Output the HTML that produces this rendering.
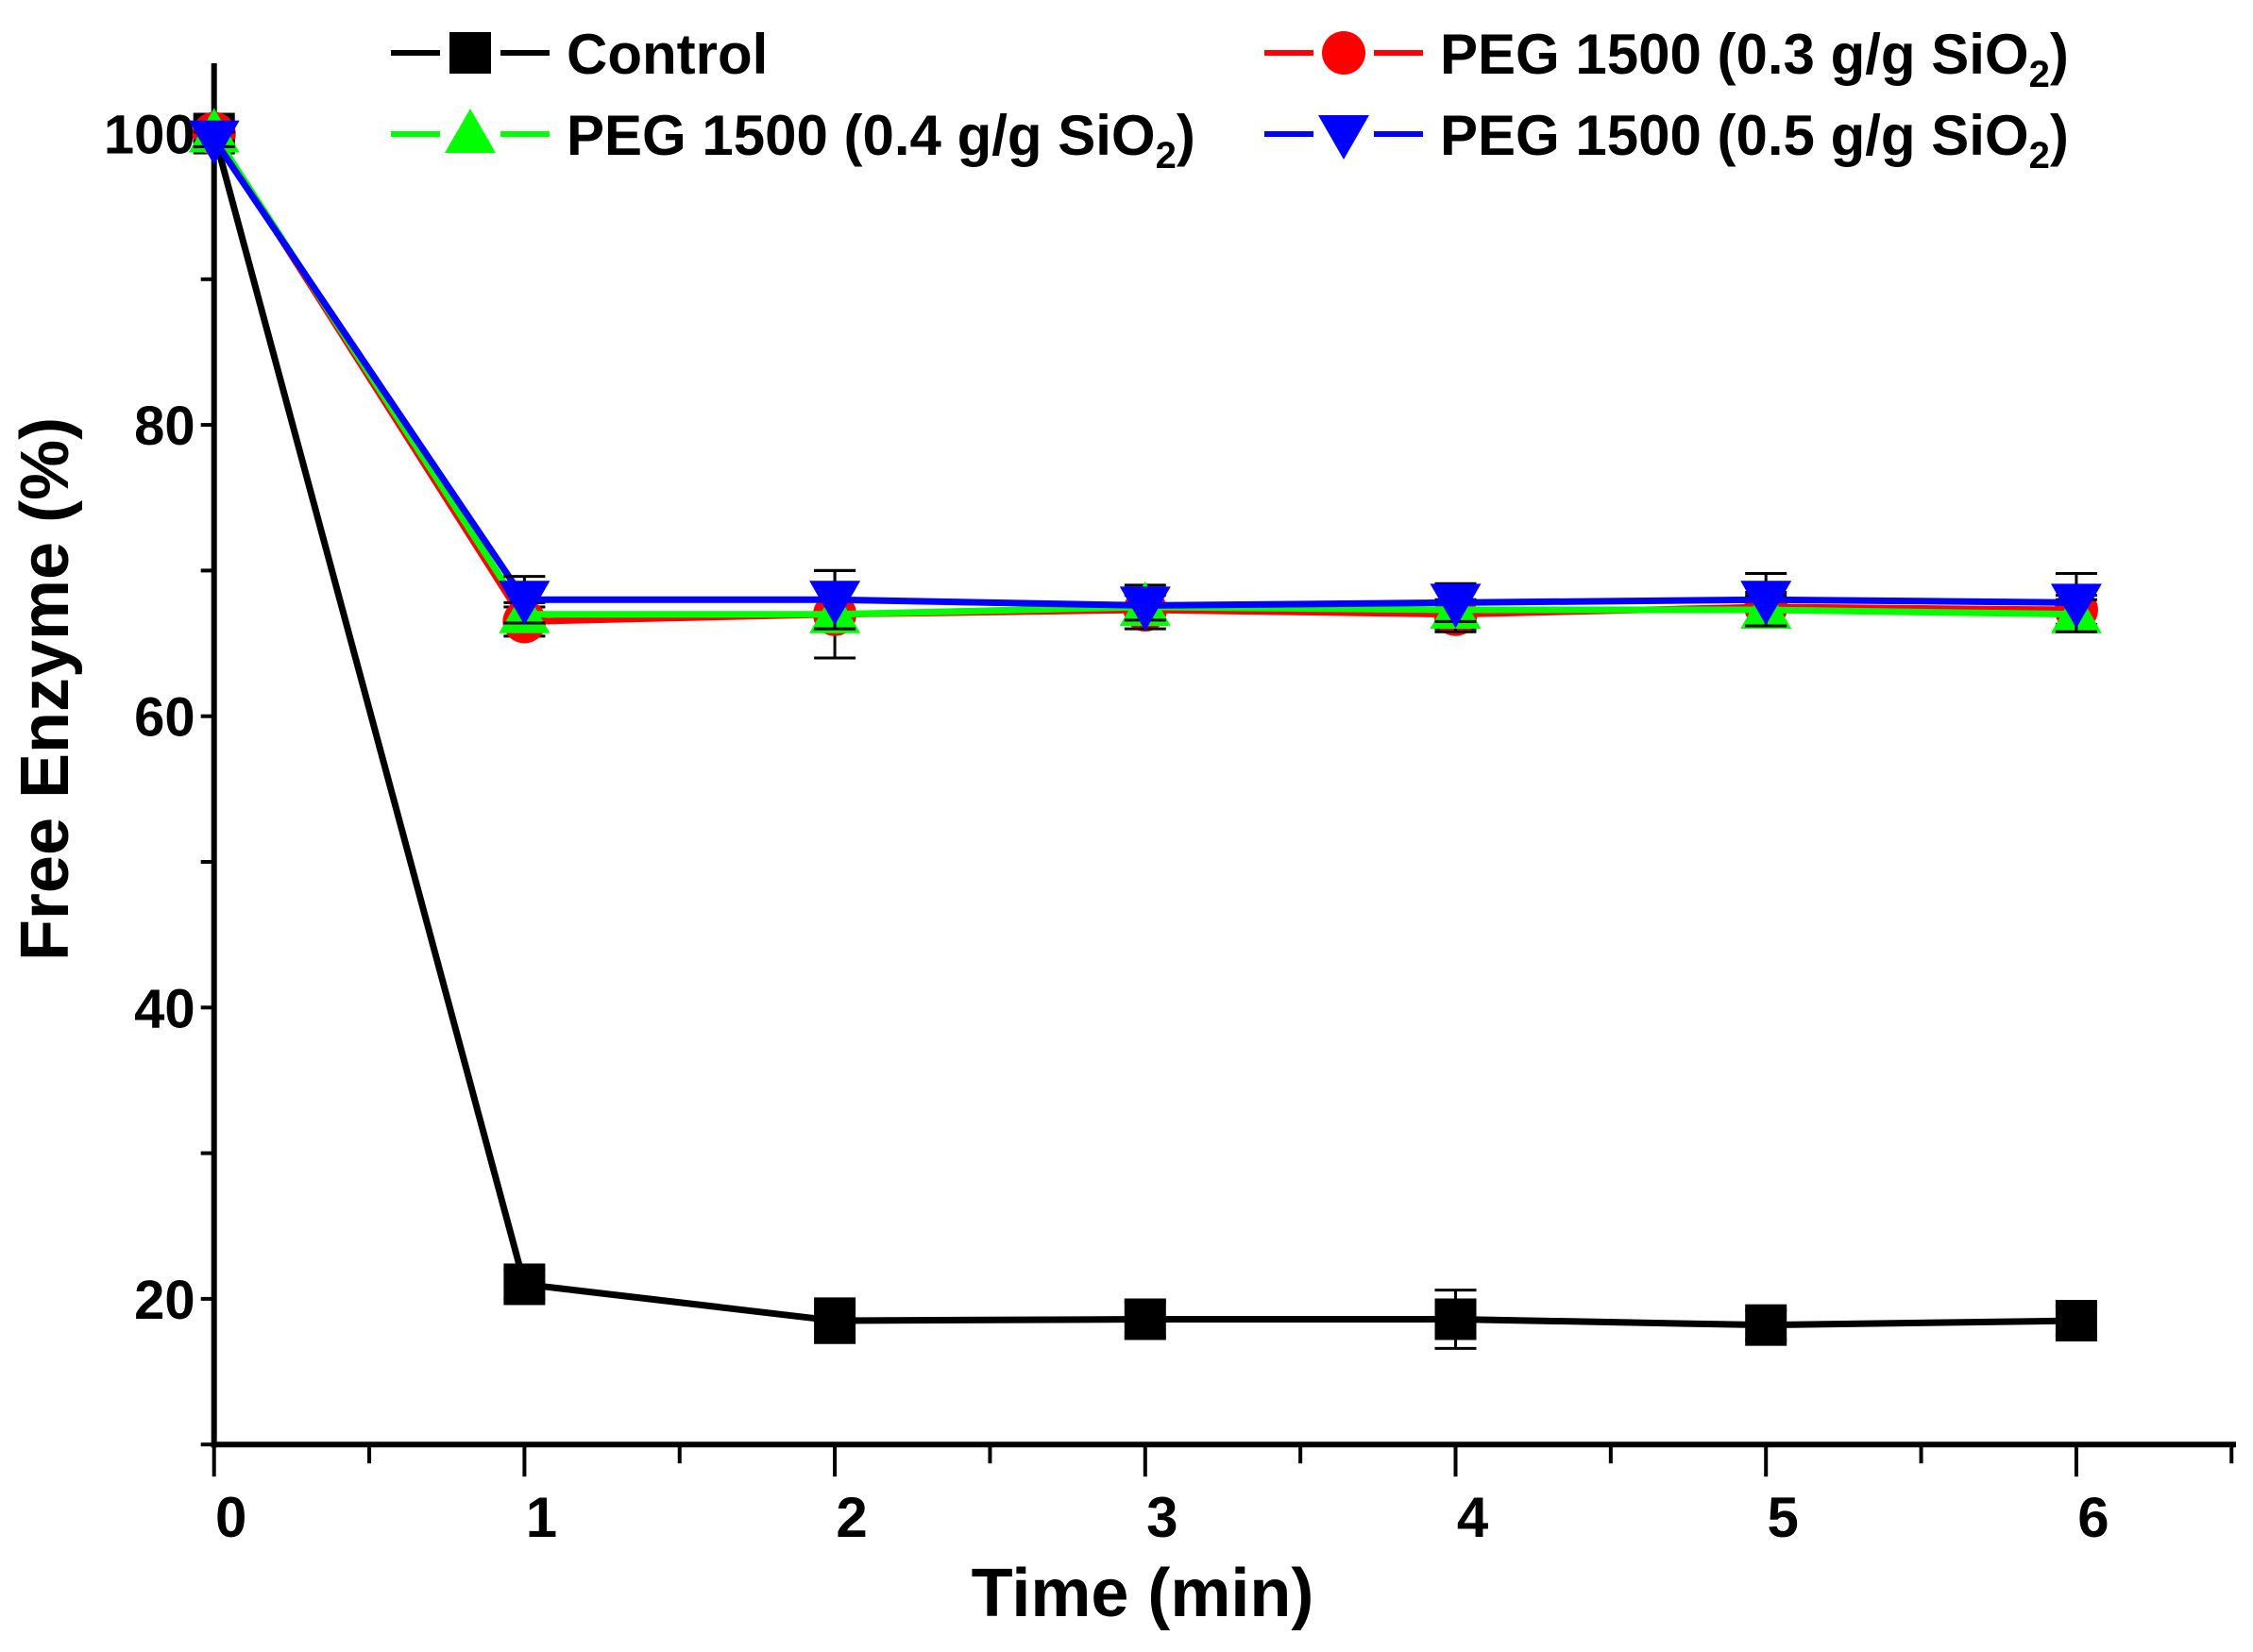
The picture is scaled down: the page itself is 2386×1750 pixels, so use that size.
<!DOCTYPE html>
<html><head><meta charset="utf-8"><style>
html,body{margin:0;padding:0;background:#fff;}
svg{display:block;}
text{font-family:"Liberation Sans",Arial,sans-serif;font-weight:bold;fill:#000;}
</style></head><body>
<svg id="chart" width="2386" height="1750" viewBox="0 0 2386 1750" xmlns="http://www.w3.org/2000/svg">
<g id="axes"></g>
<g id="series"></g>
<g id="legend"></g>
</svg>
<script>
const times = [0,1,2,3,4,5,6];
const xTicks = [0,1,2,3,4,5,6];
const yTicks = [20,40,60,80,100];
const yMinor = [10,30,50,70,90];
const control = [100,21,18.5,18.6,18.6,18.2,18.5];
const controlErr = [0.8,1,1.5,1.2,2,1,1];
const peg03 = [100,66.5,67,67.3,67,67.5,67.3];
const peg03Err = [0.5,1,3,1,1,1,1];
const peg04 = [100,67,67,67.5,67.3,67.3,67];
const peg04Err = [0.5,0.8,1,1.5,1.5,1,1];
const peg05 = [99.6,68,68,67.6,67.8,68,67.8];
const peg05Err = [0.5,1.6,2,1,1.3,1.8,2];

const NS="http://www.w3.org/2000/svg";
const X0=226.7, XS=328.7, Y100=141.5, YU=15.43;
function xs(t){return X0+t*XS;}
function ys(v){return Y100+(100-v)*YU;}
function mk(tag,attrs,parent){const e=document.createElementNS(NS,tag);for(const k in attrs)e.setAttribute(k,attrs[k]);parent.appendChild(e);return e;}
const axes=document.getElementById('axes');
const series=document.getElementById('series');
const legend=document.getElementById('legend');
const yBottom=ys(10);

let yl=mk('line',{x1:X0,y1:67,x2:X0,y2:yBottom+3,stroke:'#000','stroke-width':6},axes);


let xl=mk('line',{x1:X0-3,y1:yBottom,x2:2368,y2:yBottom,stroke:'#000','stroke-width':6},axes);


xTicks.forEach(t=>{
  let l=mk('line',{x1:xs(t),y1:yBottom,x2:xs(t),y2:yBottom+34,stroke:'#000','stroke-width':4},axes);
  
  
  let m=mk('line',{x1:xs(t+0.5),y1:yBottom,x2:xs(t+0.5),y2:yBottom+20,stroke:'#000','stroke-width':4},axes);
  
  
  let tx=mk('text',{x:xs(t)+18,y:1628,'font-size':60,'text-anchor':'middle'},axes);
  tx.textContent=t;
  
  
});
yTicks.forEach(v=>{
  let l=mk('line',{x1:X0-14,y1:ys(v),x2:X0,y2:ys(v),stroke:'#000','stroke-width':4},axes);
  
  
  let tx=mk('text',{x:X0-20,y:ys(v)+21,'font-size':58,'text-anchor':'end'},axes);
  tx.textContent=v;
  
  
});
yMinor.forEach(v=>{
  let l=mk('line',{x1:X0-14,y1:ys(v),x2:X0,y2:ys(v),stroke:'#000','stroke-width':4},axes);
  
  
});
let xt=mk('text',{x:1210,y:1712,'font-size':72,'text-anchor':'middle'},axes);
xt.textContent='Time (min)';


let ytt=mk('text',{x:0,y:0,'font-size':72,'text-anchor':'middle',transform:'translate(72,730) rotate(-90)'},axes);
ytt.textContent='Free Enzyme (%)';



function marker(type,cx,cy,color,parent,size){
  const s=size||1;let e;
  if(type==='square') e=mk('rect',{x:cx-22*s,y:cy-22*s,width:44*s,height:44*s,fill:color},parent);
  else if(type==='circle') e=mk('circle',{cx:cx,cy:cy,r:23*s,fill:color},parent);
  else if(type==='up') e=mk('polygon',{points:`${cx},${cy-27*s} ${cx+27*s},${cy+20*s} ${cx-27*s},${cy+20*s}`,fill:color},parent);
  else e=mk('polygon',{points:`${cx},${cy+27*s} ${cx+27*s},${cy-20*s} ${cx-27*s},${cy-20*s}`,fill:color},parent);
  return e;
}
const defs=[
  {name:'control',vals:control,err:controlErr,color:'#000',m:'square'},
  {name:'peg-0-3',vals:peg03,err:peg03Err,color:'#ff0000',m:'circle'},
  {name:'peg-0-4',vals:peg04,err:peg04Err,color:'#00ff00',m:'up'},
  {name:'peg-0-5',vals:peg05,err:peg05Err,color:'#0000ff',m:'down'}
];
defs.forEach(d=>{
  const g=mk('g',{},series);
  
  
  const pts=times.map((t,i)=>xs(t)+','+ys(d.vals[i])).join(' ');
  let pl=mk('polyline',{points:pts,fill:'none',stroke:d.color,'stroke-width':7},g);
  
  
  times.forEach((t,i)=>{
    const x=xs(t),y1=ys(d.vals[i]+d.err[i]),y2=ys(d.vals[i]-d.err[i]);
    let eb=mk('path',{d:`M${x},${y1}V${y2}M${x-22},${y1}H${x+22}M${x-22},${y2}H${x+22}`,stroke:'#000','stroke-width':3,fill:'none'},g);
    
    
    let mm=marker(d.m,x,ys(d.vals[i]),d.color,g);
    
    
  });
});

const leg=[
  {name:'control',x:414,y:56,color:'#000',m:'square',label:'Control',sub:false},
  {name:'peg-0-3',x:1339,y:56,color:'#ff0000',m:'circle',label:'PEG 1500 (0.3 g/g SiO',sub:true},
  {name:'peg-0-4',x:414,y:142,color:'#00ff00',m:'up',label:'PEG 1500 (0.4 g/g SiO',sub:true},
  {name:'peg-0-5',x:1339,y:142,color:'#0000ff',m:'down',label:'PEG 1500 (0.5 g/g SiO',sub:true}
];
leg.forEach(l=>{
  const g=mk('g',{},legend);
  
  
  mk('line',{x1:l.x,y1:l.y,x2:l.x+52,y2:l.y,stroke:l.color,'stroke-width':6},g);
  mk('line',{x1:l.x+116,y1:l.y,x2:l.x+168,y2:l.y,stroke:l.color,'stroke-width':6},g);
  marker(l.m,l.x+84,l.y,l.color,g);
  const t=mk('text',{x:l.x+186,y:l.y+22,'font-size':60},g);
  t.textContent=l.label;
  if(l.sub){
    const s=mk('tspan',{'font-size':40,dy:14},t);s.textContent='2';
    const c=mk('tspan',{'font-size':60,dy:-14},t);c.textContent=')';
  }
});
</script>
</body></html>
